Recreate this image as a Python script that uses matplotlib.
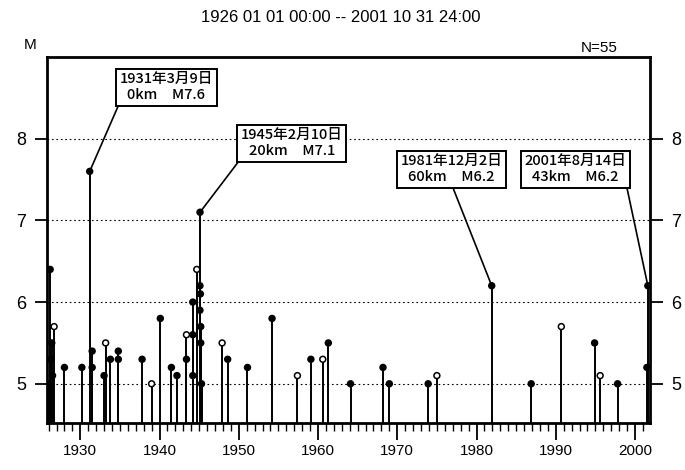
import numpy as np
import matplotlib
matplotlib.use("Agg")
import matplotlib.pyplot as plt
from matplotlib.ticker import MultipleLocator

plt.rcParams['font.family'] = ['Liberation Sans', 'Noto Sans CJK JP', 'DejaVu Sans']

# event list (decimal year, magnitude, open marker?)
years = [1926.1, 1926.2, 1926.3, 1926.4, 1926.5, 1926.7,
         1928.0, 1930.2, 1931.19, 1931.5, 1931.5, 1933.0, 1933.2, 1933.8,
         1934.8, 1934.8, 1937.8, 1939.0, 1940.1, 1941.5, 1942.2, 1943.4,
         1943.4, 1944.2, 1944.2, 1944.2, 1944.7, 1945.11, 1945.1, 1945.15,
         1945.1, 1945.2, 1945.2, 1945.3, 1947.9, 1948.6, 1951.1, 1954.2,
         1957.4, 1959.1, 1960.6, 1961.3, 1964.1, 1968.2, 1969.0, 1973.9,
         1975.0, 1981.92, 1986.9, 1990.7, 1994.9, 1995.6, 1997.8, 2001.62,
         2001.5]
mags = [5.0, 6.4, 5.3, 5.5, 5.1, 5.7,
        5.2, 5.2, 7.6, 5.4, 5.2, 5.1, 5.5, 5.3,
        5.4, 5.3, 5.3, 5.0, 5.8, 5.2, 5.1, 5.6,
        5.3, 6.0, 5.6, 5.1, 6.4, 7.1, 6.2, 6.1,
        5.9, 5.7, 5.5, 5.0, 5.5, 5.3, 5.2, 5.8,
        5.1, 5.3, 5.3, 5.5, 5.0, 5.2, 5.0, 5.0,
        5.1, 6.2, 5.0, 5.7, 5.5, 5.1, 5.0, 6.2,
        5.2]
open_mark = [0, 0, 0, 0, 0, 1,
             0, 0, 0, 0, 0, 0, 1, 0,
             0, 0, 0, 1, 0, 0, 0, 1,
             0, 0, 0, 0, 1, 0, 0, 0,
             0, 0, 0, 0, 1, 0, 0, 0,
             1, 0, 1, 0, 0, 0, 0, 0,
             1, 0, 0, 1, 0, 1, 0, 0,
             0]

# annotated events: index into the lists above, label text
notes = [(8, "1931年3月9日\n0km　M7.6"),
         (27, "1945年2月10日\n20km　M7.1"),
         (47, "1981年12月2日\n60km　M6.2"),
         (53, "2001年8月14日\n43km　M6.2")]

title = "1926 01 01 00:00 -- 2001 10 31 24:00"
ymin, ymax = 4.52, 9.0

fig = plt.figure(figsize=(6.85, 4.70), dpi=100)
ax = fig.add_axes([0.0686, 0.1, 0.8804, 0.7787])

ax.vlines(years, ymin, mags, color='black', lw=1.4, zorder=2)
fc = ['white' if o else 'black' for o in open_mark]
ax.scatter(years, mags, s=18, facecolors=fc, edgecolors='black',
           linewidths=1.1, zorder=3)

ax.set_xlim(1925.8, 2001.9)
ax.set_ylim(ymin, ymax)

ax.xaxis.set_major_locator(MultipleLocator(10))
ax.xaxis.set_minor_locator(MultipleLocator(1))
ax.set_yticks([5, 6, 7, 8])
ax.tick_params(axis='x', which='major', direction='out', length=12, width=1.3,
               labelsize=11, pad=3)
ax.tick_params(axis='x', which='minor', direction='out', length=6, width=1.0)
ax.tick_params(axis='y', which='major', direction='out', length=9, width=1.3,
               labelsize=13, left=True, right=True, labelleft=True,
               labelright=True, pad=6)
ax.grid(axis='y', linestyle=(0, (1.5, 2.5)), color='black', lw=0.8)

for s in ax.spines.values():
    s.set_linewidth(2)

# leader line anchor on the box: bottom-left, bottom-left, bottom-middle, bottom-right
box_pos = [(0.198, 0.917), (0.406, 0.764), (0.671, 0.693), (0.876, 0.693)]
rel = [(0.0, 0.0), (0.0, 0.0), (0.5, 0.0), (1.0, 0.0)]
for (i, txt), pos, rp in zip(notes, box_pos, rel):
    ax.annotate(txt, xy=(years[i], mags[i]), xytext=pos,
                textcoords='axes fraction', ha='center', va='center',
                fontsize=10.5, linespacing=1.2, fontweight='medium',
                family=['Noto Sans CJK JP', 'DejaVu Sans'],
                bbox=dict(boxstyle='square,pad=0.25', fc='white', ec='black', lw=1.4),
                arrowprops=dict(arrowstyle='-', color='black', lw=1.2,
                                shrinkA=0, shrinkB=0, relpos=rp),
                zorder=5)

fig.text(0.497, 0.962, title, ha='center', va='center', fontsize=12)
fig.text(0.902, 0.898, "N=55", ha='right', va='center', fontsize=11)
fig.text(0.044, 0.904, "M", ha='center', va='center', fontsize=11)

fig.savefig("out.png", dpi=100)
